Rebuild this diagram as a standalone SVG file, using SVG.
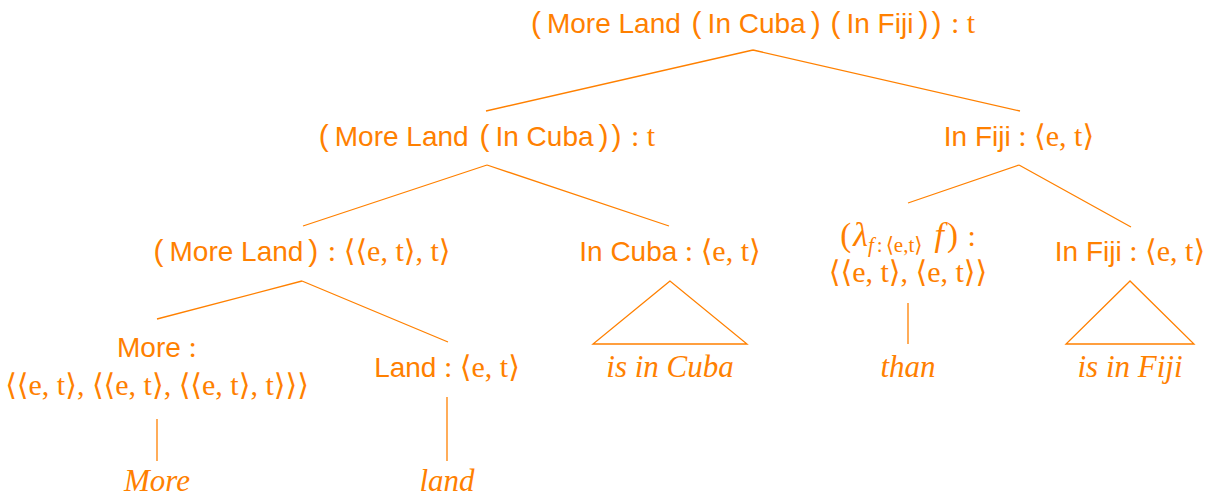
<svg xmlns="http://www.w3.org/2000/svg" width="1217" height="498" viewBox="0 0 1217 498">
<style>
text{font-family:"Liberation Sans",Arial,sans-serif;font-size:28px;fill:#FF8000;text-anchor:middle}
.p{font-family:"Liberation Sans",Arial,sans-serif;font-size:30px;font-weight:300}
.m{font-family:"Liberation Serif","DejaVu Serif",serif;font-size:30px}
.i{font-family:"Liberation Serif","DejaVu Serif",serif;font-size:31px;font-style:italic}
.L{font-family:"Liberation Serif","DejaVu Serif",serif;font-size:34px;font-style:italic}
.sub{font-family:"Liberation Serif","DejaVu Serif",serif;font-size:21px}
.subi{font-family:"Liberation Serif","DejaVu Serif",serif;font-size:21px;font-style:italic}
.e{stroke:#FF8000;stroke-width:1.3;fill:none}
</style>
<rect width="1217" height="498" fill="#fff"/>
<g id="connectors" class="e">
<path d="M753 50L486 111M753 50L1020 111"/>
<path d="M487 165L303 226M487 165L669 226"/>
<path d="M1019 165L908 203M1019 165L1131 227"/>
<path d="M302 281L157 319M302 281L448 342"/>
<path d="M670 281L593 344L747 344Z"/>
<path d="M908 303L908 344"/>
<path d="M1130 281L1066 344L1194 344Z"/>
<path d="M157 419L157 461"/>
<path d="M447 397L447 461"/>
</g>
<g id="n-root"><text x="753" y="33"><tspan class="p">(</tspan><tspan dx="6">More Land</tspan><tspan dx="3"> </tspan><tspan class="p">(</tspan><tspan dx="6">In Cuba</tspan><tspan class="p" dx="5">)</tspan><tspan dx="2"> </tspan><tspan class="p">(</tspan><tspan dx="6">In Fiji</tspan><tspan class="p" dx="5">)</tspan><tspan class="p" dx="3">)</tspan><tspan class="m" dx="2"> : t</tspan></text></g>
<g id="n-mlc"><text x="487" y="146"><tspan class="p">(</tspan><tspan dx="6">More Land</tspan><tspan dx="3"> </tspan><tspan class="p">(</tspan><tspan dx="6">In Cuba</tspan><tspan class="p" dx="5">)</tspan><tspan class="p" dx="3">)</tspan><tspan class="m" dx="2"> : t</tspan></text></g>
<g id="n-fiji1"><text x="1019" y="146">In Fiji<tspan class="m"> : ⟨e, t⟩</tspan></text></g>
<g id="n-ml"><text x="302" y="261"><tspan class="p">(</tspan><tspan dx="6">More Land</tspan><tspan class="p" dx="5">)</tspan><tspan class="m" dx="2"> : ⟨⟨e, t⟩, t⟩</tspan></text></g>
<g id="n-cuba"><text x="670" y="261">In Cuba<tspan class="m"> : ⟨e, t⟩</tspan></text></g>
<g id="n-lambda"><text x="908" y="246"><tspan class="m" style="font-size:33px">(</tspan><tspan class="L" dx="2">λ</tspan><tspan class="subi" dy="6">f</tspan><tspan class="sub" dx="3">:</tspan><tspan class="sub" dx="3">⟨e,t⟩</tspan><tspan class="L" dx="12" dy="-6">f</tspan><tspan class="m" style="font-size:33px" dx="3">)</tspan><tspan class="m" dx="2"> :</tspan></text><text x="908" y="282" class="m">⟨⟨e, t⟩, ⟨e, t⟩⟩</text></g>
<g id="n-fiji2"><text x="1130" y="261">In Fiji<tspan class="m"> : ⟨e, t⟩</tspan></text></g>
<g id="n-more"><text x="157" y="357">More <tspan class="m">:</tspan></text><text x="157" y="395" class="m">⟨⟨e, t⟩, ⟨⟨e, t⟩, ⟨⟨e, t⟩, t⟩⟩⟩</text></g>
<g id="n-land"><text x="447" y="377">Land<tspan class="m"> : ⟨e, t⟩</tspan></text></g>
<g id="n-iscuba"><text x="670" y="377" class="i">is in Cuba</text></g>
<g id="n-than"><text x="908" y="377" class="i">than</text></g>
<g id="n-isfiji"><text x="1130" y="377" class="i">is in Fiji</text></g>
<g id="n-more-w"><text x="157" y="491" class="i">More</text></g>
<g id="n-land-w"><text x="447" y="491" class="i">land</text></g>
</svg>
